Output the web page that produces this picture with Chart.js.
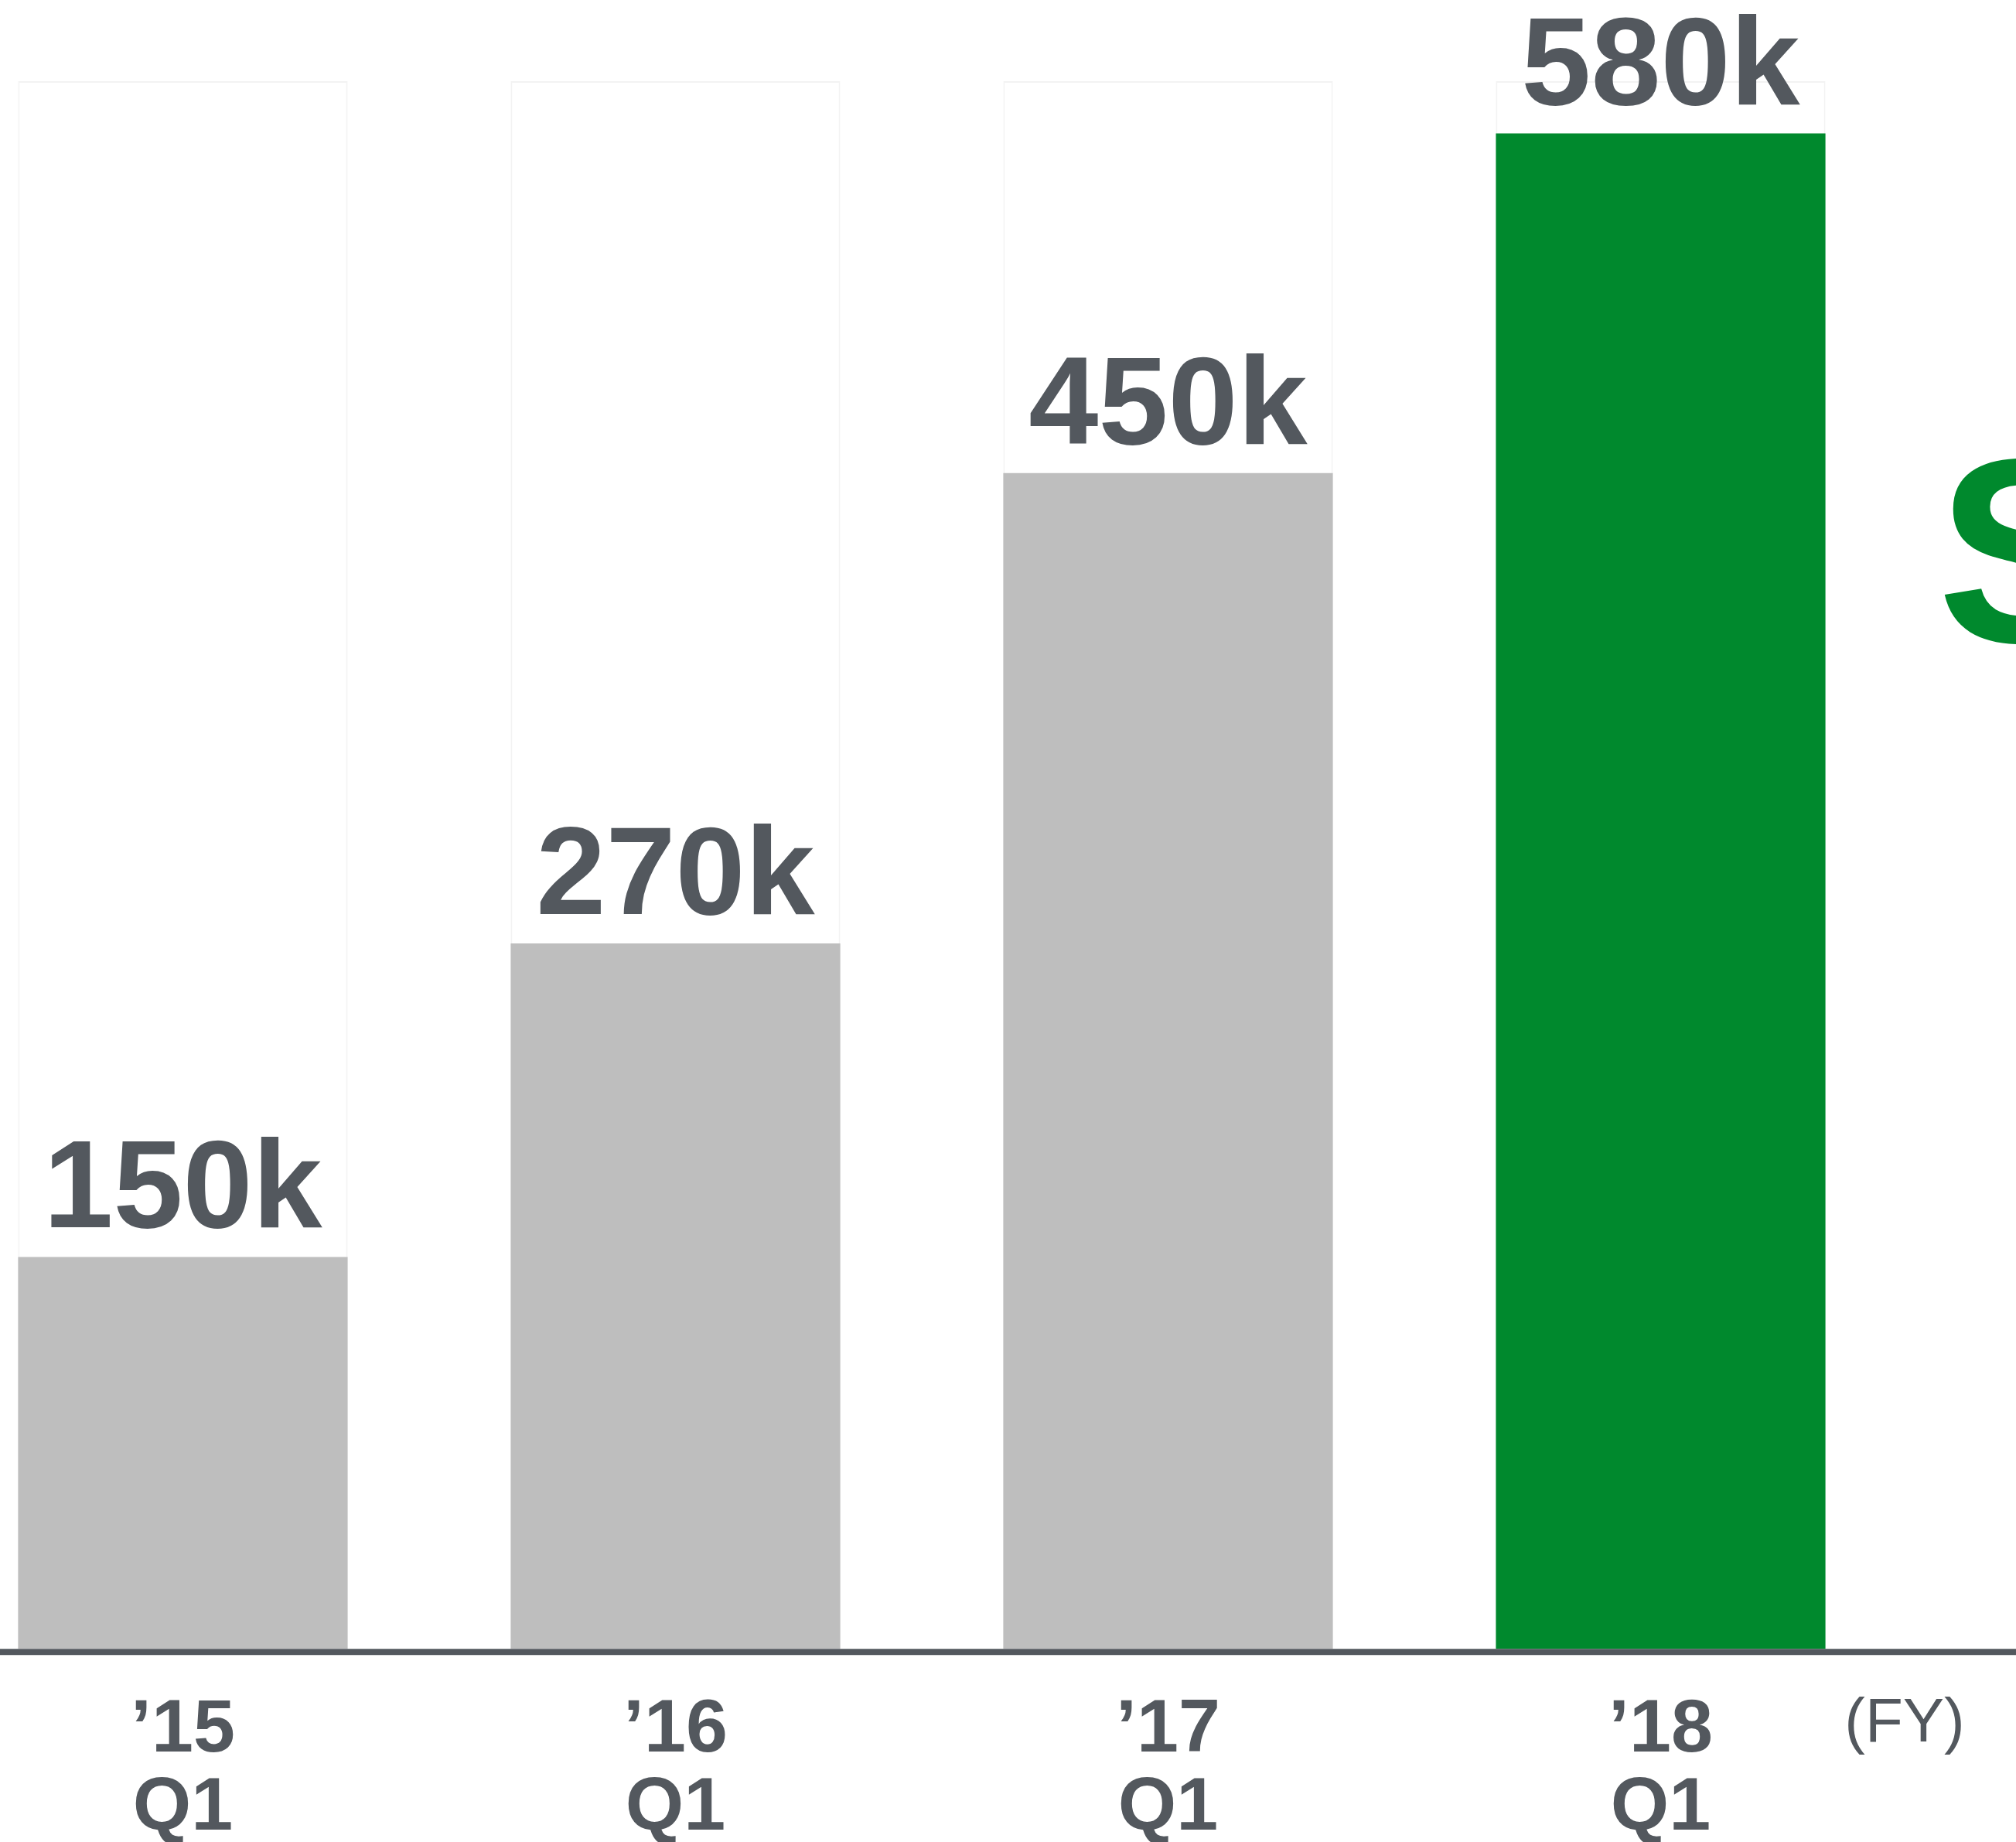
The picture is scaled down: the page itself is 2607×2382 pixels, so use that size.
<!DOCTYPE html>
<html>
<head>
<meta charset="utf-8">
<script src="https://cdn.jsdelivr.net/npm/chart.js@4.4.1/dist/chart.umd.min.js"></script>
<style>
  html, body { margin: 0; padding: 0; background: #fff; overflow: hidden; width: 2607px; height: 2382px; position: relative; }
  /* the plot runs a little past the left page edge, so the canvas is shifted */
  #wrap { position: absolute; left: -82px; top: 0; }
</style>
</head>
<body>
<div id="wrap"><canvas id="users__chart" width="2689" height="2448"></canvas></div>
<script>
const years = ["’15", "’16", "’17", "’18"]
const quarters = ["Q1", "Q1", "Q1", "Q1"]
const users = [150, 270, 450, 580]
const capacity = [600, 600, 600, 600]
const barColors = ["#bebebe", "#bebebe", "#bebebe", "#00892d"]

const textGray = "#53585e"
const green = "#00892d"
const fontFamily = "'Liberation Sans', Arial, sans-serif"

// value labels over each bar + the thick baseline + the side notes
const overlay = {
  id: "overlay",
  afterDatasetsDraw(chart) {
    const ctx = chart.ctx
    const meta = chart.getDatasetMeta(0)
    const yZero = chart.scales.y.getPixelForValue(0)

    ctx.save()
    ctx.fillStyle = textGray
    ctx.fillRect(0, yZero, chart.width, 8)

    ctx.font = "bold 162px " + fontFamily
    ctx.textAlign = "center"
    ctx.textBaseline = "alphabetic"
    meta.data.forEach((bar, i) => {
      ctx.fillText(users[i] + "k", bar.x, bar.y - 38)
    })

    ctx.font = "80px " + fontFamily
    ctx.fillText("(FY)", 2545, 2252)

    ctx.fillStyle = green
    ctx.font = "bold 340px " + fontFamily
    ctx.textAlign = "left"
    ctx.fillText("S", 2587, 830)
    ctx.restore()
  },
}

new Chart(document.getElementById("users__chart"), {
  type: "bar",
  data: {
    labels: years.map((y, i) => [y, quarters[i]]),
    datasets: [
      {
        data: users,
        backgroundColor: barColors,
        borderWidth: 0,
        grouped: false,
        barPercentage: 0.669,
        categoryPercentage: 1,
      },
      {
        data: capacity,
        backgroundColor: "#ffffff",
        borderColor: "#f3f3f3",
        borderWidth: 2,
        grouped: false,
        barPercentage: 0.669,
        categoryPercentage: 1,
      },
    ],
  },
  options: {
    responsive: false,
    animation: false,
    devicePixelRatio: 1,
    layout: { padding: { top: 105, right: 141, bottom: 10, left: 0 } },
    plugins: { legend: { display: false }, tooltip: { enabled: false } },
    scales: {
      y: { display: false, min: 0, max: 600 },
      x: {
        grid: { display: false },
        border: { display: false },
        ticks: {
          color: textGray,
          padding: 48,
          font: { family: fontFamily, size: 97, weight: "bold", lineHeight: 1.04 },
        },
      },
    },
  },
  plugins: [overlay],
})
</script>
</body>
</html>
